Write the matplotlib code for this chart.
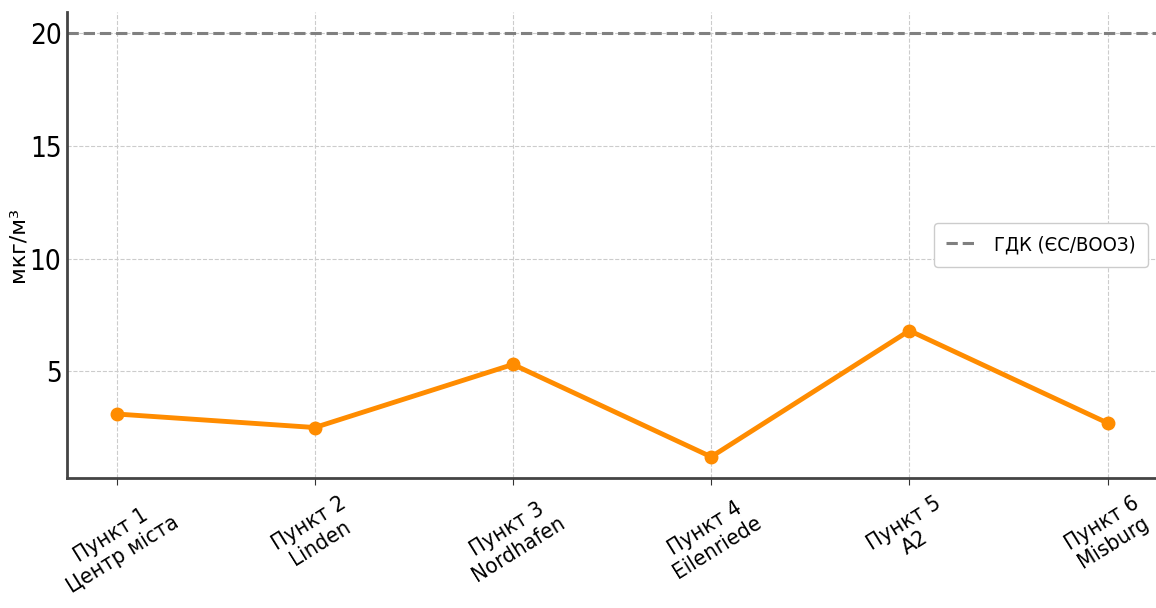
import matplotlib.pyplot as plt

labels = ['Пункт 1\nЦентр міста', 'Пункт 2\nLinden', 'Пункт 3\nNordhafen',
          'Пункт 4\nEilenriede', 'Пункт 5\nA2', 'Пункт 6\nMisburg']
values = [3.1, 2.5, 5.3, 1.2, 6.8, 2.7]
limit = 20
limit_label = 'ГДК (ЄС/ВООЗ)'

plt.rcParams['font.family'] = ['DejaVu Sans']
plt.rcParams['font.stretch'] = 'condensed'

fig = plt.figure(figsize=(11.56, 6.08), dpi=100)
ax = fig.add_axes([67 / 1156, 1 - 478 / 608, 1 - 67 / 1156 + 0.001, 466 / 608])

x = list(range(len(labels)))
ax.plot(x, values, color='#ff8c00', linewidth=3.5, marker='o', markersize=9)
ax.axhline(limit, color='gray', linestyle='--', linewidth=2.2, label=limit_label)

ax.set_xticks(x)
ax.set_xticklabels(labels, rotation=32, fontsize=16, linespacing=1.15)
ax.set_yticks([5, 10, 15, 20])
ax.tick_params(axis='y', labelsize=20, length=0, pad=4)
ax.tick_params(axis='x', length=5, color='#333333', pad=6)
ax.set_ylabel('мкг/м³', fontsize=16, fontstretch='normal')
ax.yaxis.set_label_coords(-0.036, 0.5)

ax.grid(True, linestyle='--', color='#cccccc', linewidth=0.8)
for s in ['top', 'right']:
    ax.spines[s].set_visible(False)
for s in ['left', 'bottom']:
    ax.spines[s].set_linewidth(2)
    ax.spines[s].set_color('#444444')

ax.legend(loc='center right', fontsize=14.5, bbox_to_anchor=(0.995, 0.5),
          borderaxespad=0.2, borderpad=0.6, handlelength=1.6,
          framealpha=1, edgecolor='#cccccc')

fig.savefig('out.png')
